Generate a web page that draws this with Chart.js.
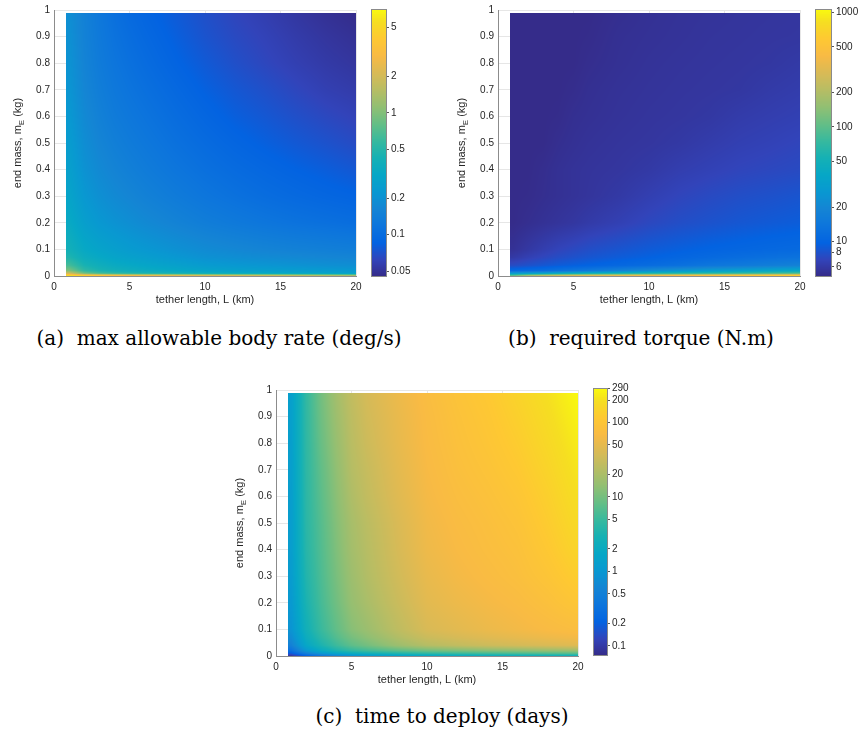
<!DOCTYPE html>
<html>
<head>
<meta charset="utf-8">
<script src="https://cdn.jsdelivr.net/npm/chart.js@4"></script>
<style>
  body { margin: 0; background: #fff; width: 859px; height: 731px; position: relative; overflow: hidden; }
  canvas { position: absolute; }
  .cap { position: absolute; font-family: "DejaVu Serif", serif; font-size: 20px; line-height: 24px;
         color: #000; white-space: nowrap; transform: translateX(-50%); }
</style>
</head>
<body>
<canvas id="rate" width="362" height="320" style="left:0;top:0"></canvas>
<canvas id="rateBar" width="70" height="300" style="left:365px;top:0"></canvas>
<canvas id="torque" width="362" height="320" style="left:444px;top:0"></canvas>
<canvas id="torqueBar" width="50" height="300" style="left:809px;top:0"></canvas>
<canvas id="time" width="362" height="320" style="left:222px;top:380px"></canvas>
<canvas id="timeBar" width="60" height="300" style="left:587px;top:379px"></canvas>
<div class="cap" style="left:219px;top:326px">(a)&nbsp; max allowable body rate (deg/s)</div>
<div class="cap" style="left:641px;top:326px">(b)&nbsp; required torque (N.m)</div>
<div class="cap" style="left:442px;top:704px">(c)&nbsp; time to deploy (days)</div>

<script>
// grid of the maps: tether length (km) by end mass (kg)
const tetherLength = [1, 2, 3, 4, 5, 6, 8, 10, 12, 14, 16, 18, 20];
const endMass = [0, 0.01, 0.02, 0.04, 0.07, 0.1, 0.2, 0.3, 0.4, 0.5, 0.6, 0.7, 0.8, 0.9, 0.99];

// (a) max allowable body rate, deg/s  (one row per end mass)
const bodyRate = [
  [6.8, 6.3, 5.6, 4.8, 4.2, 3.9, 3.5, 3.2, 3.0, 2.8, 2.5, 2.2, 1.9],
  [2.0, 0.9, 0.65, 0.55, 0.5, 0.46, 0.42, 0.38, 0.35, 0.33, 0.31, 0.29, 0.27],
  [1.0, 0.55, 0.45, 0.4, 0.37, 0.35, 0.32, 0.29, 0.27, 0.26, 0.25, 0.24, 0.23],
  [0.65, 0.44, 0.38, 0.34, 0.32, 0.3, 0.27, 0.24, 0.225, 0.215, 0.205, 0.195, 0.19],
  [0.47, 0.36, 0.32, 0.29, 0.27, 0.255, 0.225, 0.2, 0.19, 0.18, 0.172, 0.165, 0.16],
  [0.4, 0.32, 0.285, 0.26, 0.24, 0.225, 0.2, 0.18, 0.168, 0.158, 0.15, 0.145, 0.14],
  [0.33, 0.26, 0.225, 0.205, 0.19, 0.176, 0.156, 0.14, 0.129, 0.12, 0.113, 0.108, 0.103],
  [0.29, 0.225, 0.195, 0.176, 0.163, 0.151, 0.134, 0.12, 0.11, 0.102, 0.096, 0.091, 0.087],
  [0.265, 0.203, 0.175, 0.158, 0.146, 0.136, 0.12, 0.108, 0.099, 0.092, 0.086, 0.081, 0.076],
  [0.245, 0.188, 0.161, 0.145, 0.134, 0.125, 0.11, 0.099, 0.09, 0.083, 0.077, 0.072, 0.067],
  [0.228, 0.175, 0.15, 0.134, 0.124, 0.116, 0.102, 0.091, 0.082, 0.076, 0.07, 0.065, 0.061],
  [0.215, 0.165, 0.141, 0.126, 0.116, 0.108, 0.095, 0.084, 0.076, 0.07, 0.064, 0.059, 0.056],
  [0.205, 0.158, 0.134, 0.119, 0.109, 0.101, 0.088, 0.078, 0.07, 0.064, 0.059, 0.055, 0.052],
  [0.197, 0.153, 0.129, 0.113, 0.103, 0.095, 0.083, 0.073, 0.066, 0.061, 0.056, 0.052, 0.049],
  [0.19, 0.15, 0.125, 0.108, 0.097, 0.09, 0.079, 0.07, 0.063, 0.058, 0.053, 0.049, 0.046]
];

// (b) required torque, N.m
const torque = [
  [130, 250, 330, 400, 450, 480, 520, 580, 650, 740, 830, 920, 1000],
  [30, 32, 35, 40, 45, 50, 55, 60, 65, 70, 75, 82, 90],
  [11, 11.5, 12, 13, 14, 15, 18, 22, 26, 30, 33, 37, 40],
  [7.5, 8, 8.5, 9, 9.4, 9.8, 10.6, 11.5, 12.5, 14, 15, 16.5, 18],
  [6.0, 6.6, 7.1, 7.6, 8.0, 8.4, 9.0, 9.6, 10.3, 11, 11.7, 12.4, 13],
  [5.4, 5.9, 6.4, 6.9, 7.3, 7.7, 8.3, 8.9, 9.4, 9.9, 10.3, 10.7, 11],
  [5.0, 5.2, 5.4, 5.6, 5.8, 6.1, 6.6, 7.2, 7.7, 8.1, 8.5, 8.8, 9.1],
  [5.0, 5.05, 5.2, 5.35, 5.5, 5.65, 6.0, 6.5, 7.0, 7.4, 7.75, 8.0, 8.3],
  [5.0, 5.0, 5.15, 5.35, 5.5, 5.6, 5.75, 6.0, 6.4, 6.7, 7.0, 7.2, 7.4],
  [5.0, 5.0, 5.0, 5.2, 5.35, 5.48, 5.63, 5.75, 5.95, 6.25, 6.55, 6.75, 7.0],
  [5.0, 5.0, 5.0, 5.05, 5.25, 5.35, 5.52, 5.65, 5.75, 5.9, 6.2, 6.4, 6.6],
  [5.0, 5.0, 5.0, 5.0, 5.1, 5.27, 5.45, 5.57, 5.67, 5.75, 5.85, 6.1, 6.3],
  [5.0, 5.0, 5.0, 5.0, 5.0, 5.15, 5.35, 5.5, 5.6, 5.68, 5.75, 5.85, 6.05],
  [5.0, 5.0, 5.0, 5.0, 5.0, 5.05, 5.3, 5.42, 5.52, 5.62, 5.68, 5.75, 5.8],
  [5.0, 5.0, 5.0, 5.0, 5.0, 5.0, 5.2, 5.36, 5.48, 5.56, 5.63, 5.69, 5.75]
];

// (c) time to deploy, days
const deployTime = [
  [0.09, 0.2, 0.35, 0.55, 0.8, 1.0, 1.3, 1.6, 1.8, 2.0, 2.1, 2.2, 2.3],
  [0.18, 0.5, 1.0, 1.6, 2.2, 2.7, 3.6, 4.5, 5.2, 5.8, 6.4, 7, 7.5],
  [0.3, 1.0, 2.0, 3.2, 4.5, 5.5, 7.5, 9.5, 11, 12.5, 13.5, 15, 16],
  [0.52, 1.7, 3.2, 5.2, 7.6, 9.8, 16, 23, 28, 33, 37, 41, 45],
  [0.72, 2.2, 4.2, 6.8, 10.2, 13.3, 21.5, 32, 38.5, 45, 51, 57, 63],
  [0.9, 2.6, 5, 8, 12.5, 16, 26, 40, 47, 55, 62, 70, 78],
  [1.05, 3.1, 5.8, 9.5, 15, 19.5, 31, 47, 56, 64, 72, 85, 105],
  [1.15, 3.5, 6.3, 10.5, 16.5, 22, 35, 52, 63, 72, 82, 100, 130],
  [1.2, 3.8, 6.7, 11.3, 18, 23.5, 38, 57, 68, 78, 88, 113, 155],
  [1.2, 4.0, 7, 12, 19, 25, 40, 60, 72, 82, 95, 125, 175],
  [1.22, 4.1, 7.5, 13, 21, 28, 44, 64, 77, 88, 104, 137, 195],
  [1.25, 4.2, 8.0, 14, 23, 30, 47, 67, 82, 95, 115, 152, 215],
  [1.27, 4.3, 8.7, 15.3, 24.5, 33, 50, 70, 86, 102, 126, 168, 235],
  [1.29, 4.4, 9.4, 16.6, 26, 35.5, 52, 72, 90, 108, 138, 184, 260],
  [1.3, 4.5, 10, 18, 28, 38, 55, 75, 95, 115, 150, 200, 285]
];

// colour limits and colorbar ticks
const rateRange = [0.045, 7.1];
const torqueRange = [4.9, 1070];
const timeRange = [0.073, 290];
const rateTicks = [0.05, 0.1, 0.2, 0.5, 1, 2, 5];
const torqueTicks = [6, 8, 10, 20, 50, 100, 200, 500, 1000];
const timeTicks = [0.1, 0.2, 0.5, 1, 2, 5, 10, 20, 50, 100, 200, 290];

const lengthTicks = [0, 5, 10, 15, 20];
const massTicks = [0, 0.1, 0.2, 0.3, 0.4, 0.5, 0.6, 0.7, 0.8, 0.9, 1];
const lengthStart = 0.8;

const xTitle = 'tether length, L (km)';

// parula colormap
const parula = [
  [0.2081, 0.1663, 0.5292], [0.1959, 0.2645, 0.7279], [0.0117, 0.3875, 0.8820],
  [0.0498, 0.4586, 0.8641], [0.0793, 0.5200, 0.8312], [0.0343, 0.5966, 0.8199],
  [0.0228, 0.6535, 0.7768], [0.0843, 0.6928, 0.7062], [0.2178, 0.7250, 0.6193],
  [0.3953, 0.7459, 0.5244], [0.5709, 0.7485, 0.4494], [0.7184, 0.7411, 0.3905],
  [0.8507, 0.7299, 0.3360], [0.9739, 0.7314, 0.2666], [0.9955, 0.7861, 0.1967],
  [0.9626, 0.8705, 0.1309], [0.9763, 0.9831, 0.0538]
];
const stopT = [0, 4, 8, 12, 16, 20, 24, 28, 32, 36, 40, 44, 48, 52, 56, 60, 63].map(i => i / 63);

function colorAt(t) {
  t = Math.min(1, Math.max(0, t));
  let i = 0;
  while (i < stopT.length - 2 && t > stopT[i + 1]) i++;
  const f = (t - stopT[i]) / (stopT[i + 1] - stopT[i]);
  return parula[i].map((c, k) => Math.round(255 * (c + (parula[i + 1][k] - c) * f)));
}

function locate(arr, v) {
  if (v <= arr[0]) return [0, 0];
  for (let i = 0; i < arr.length - 1; i++) {
    if (v <= arr[i + 1]) return [i, (v - arr[i]) / (arr[i + 1] - arr[i])];
  }
  return [arr.length - 2, 1];
}

const heatmapPlugin = {
  id: 'heatmap',
  beforeDatasetsDraw(chart, args, o) {
    const { ctx, scales: { x, y } } = chart;
    const left = Math.round(x.getPixelForValue(lengthStart));
    const right = Math.round(x.getPixelForValue(tetherLength[tetherLength.length - 1]));
    const top = Math.round(y.getPixelForValue(endMass[endMass.length - 1]));
    const bottom = Math.round(y.getPixelForValue(endMass[0]));
    const w = right - left, h = bottom - top;
    const lo = Math.log10(o.range[0]), hi = Math.log10(o.range[1]);
    const logs = o.values.map(r => r.map(v => Math.log10(v)));
    const img = ctx.createImageData(w, h);
    for (let j = 0; j < h; j++) {
      const [r, fy] = locate(endMass, y.getValueForPixel(top + j + 0.5));
      for (let i = 0; i < w; i++) {
        const [c, fx] = locate(tetherLength, x.getValueForPixel(left + i + 0.5));
        const a = logs[r][c] * (1 - fx) + logs[r][c + 1] * fx;
        const b = logs[r + 1][c] * (1 - fx) + logs[r + 1][c + 1] * fx;
        const col = colorAt((a * (1 - fy) + b * fy - lo) / (hi - lo));
        const k = (j * w + i) * 4;
        img.data[k] = col[0]; img.data[k + 1] = col[1]; img.data[k + 2] = col[2]; img.data[k + 3] = 255;
      }
    }
    ctx.putImageData(img, left, top);
  }
};

const axisTitlePlugin = {
  id: 'axisTitles',
  afterDraw(chart) {
    const { ctx, chartArea: a } = chart;
    ctx.save();
    ctx.fillStyle = '#262626';
    ctx.font = '11px "Liberation Sans"';
    ctx.textAlign = 'center';
    ctx.textBaseline = 'middle';
    ctx.fillText(xTitle, (a.left + a.right) / 2, a.bottom + 24);
    // y title with subscript E
    ctx.translate(a.left - 36, (a.top + a.bottom) / 2);
    ctx.rotate(-Math.PI / 2);
    ctx.textAlign = 'left';
    const p1 = 'end mass, m', p3 = ' (kg)';
    const w1 = ctx.measureText(p1).width, w3 = ctx.measureText(p3).width;
    ctx.font = '8px "Liberation Sans"';
    const w2 = ctx.measureText('E').width;
    let xx = -(w1 + w2 + w3) / 2;
    ctx.font = '11px "Liberation Sans"';
    ctx.fillText(p1, xx, 0);
    ctx.font = '8px "Liberation Sans"';
    ctx.fillText('E', xx + w1, 3.5);
    ctx.font = '11px "Liberation Sans"';
    ctx.fillText(p3, xx + w1 + w2, 0);
    ctx.restore();
  }
};

const colorbarPlugin = {
  id: 'cbar',
  beforeDatasetsDraw(chart, args, o) {
    const { ctx, chartArea: a, scales: { y } } = chart;
    const lo = Math.log10(o.range[0]), hi = Math.log10(o.range[1]);
    for (let py = Math.round(a.top); py < Math.round(a.bottom); py++) {
      const v = y.getValueForPixel(py + 0.5);
      const c = colorAt((Math.log10(v) - lo) / (hi - lo));
      ctx.fillStyle = `rgb(${c[0]},${c[1]},${c[2]})`;
      ctx.fillRect(a.left, py, a.right - a.left, 1);
    }
    ctx.strokeStyle = '#8a8a8a';
    ctx.lineWidth = 1;
    ctx.strokeRect(a.left + 0.5, a.top + 0.5, a.right - a.left - 1, a.bottom - a.top - 1);
  }
};

const tickFont = { family: 'Liberation Sans', size: 10 };
const plainLabel = v => String(Math.round(v * 100) / 100);

function heatChart(id, values, range) {
  const points = [];
  endMass.forEach((m, r) => tetherLength.forEach((L, c) => points.push({ x: L, y: m, v: values[r][c] })));
  return new Chart(document.getElementById(id), {
    type: 'scatter',
    data: { datasets: [{ data: points, pointRadius: 0 }] },
    options: {
      responsive: false,
      animation: false,
      events: [],
      layout: { padding: { top: 10, right: 6, left: 0, bottom: 0 } },
      plugins: {
        legend: { display: false },
        tooltip: { enabled: false },
        heatmap: { values: values, range: range }
      },
      scales: {
        x: {
          type: 'linear', min: 0, max: 20,
          afterBuildTicks: s => { s.ticks = lengthTicks.map(v => ({ value: v })); },
          afterFit: s => { s.height = 44; s.paddingLeft = 0; s.paddingRight = 0; },
          grid: { color: '#e6e6e6', drawTicks: false },
          border: { color: '#8c8c8c' },
          ticks: { padding: 5, color: '#262626', font: tickFont, maxRotation: 0, autoSkip: false, callback: plainLabel }
        },
        y: {
          type: 'linear', min: 0, max: 1,
          afterBuildTicks: s => { s.ticks = massTicks.map(v => ({ value: v })); },
          afterFit: s => { s.width = 54; s.paddingTop = 0; s.paddingBottom = 0; },
          grid: { color: '#e6e6e6', drawTicks: false },
          border: { color: '#8c8c8c' },
          ticks: { padding: 4, color: '#262626', font: tickFont, autoSkip: false, callback: plainLabel }
        }
      }
    },
    plugins: [heatmapPlugin, axisTitlePlugin]
  });
}

function colorbar(id, range, ticks, width) {
  return new Chart(document.getElementById(id), {
    type: 'scatter',
    data: { datasets: [] },
    options: {
      responsive: false,
      animation: false,
      events: [],
      layout: { padding: { left: 6, top: 9, bottom: 23, right: 0 } },
      plugins: {
        legend: { display: false },
        tooltip: { enabled: false },
        cbar: { range: range }
      },
      scales: {
        x: { display: false },
        y: {
          type: 'logarithmic', position: 'right', min: range[0], max: range[1],
          afterBuildTicks: s => { s.ticks = ticks.map(v => ({ value: v })); },
          afterFit: s => { s.width = width; s.paddingTop = 0; s.paddingBottom = 0; },
          grid: { drawOnChartArea: false, tickLength: 2, color: '#555' },
          border: { display: false },
          ticks: { padding: 2, color: '#262626', font: tickFont, autoSkip: false, callback: v => String(v) }
        }
      }
    },
    plugins: [colorbarPlugin]
  });
}

heatChart('rate', bodyRate, rateRange);
colorbar('rateBar', rateRange, rateTicks, 48);
heatChart('torque', torque, torqueRange);
colorbar('torqueBar', torqueRange, torqueTicks, 27);
heatChart('time', deployTime, timeRange);
colorbar('timeBar', timeRange, timeTicks, 39);
</script>
</body>
</html>
